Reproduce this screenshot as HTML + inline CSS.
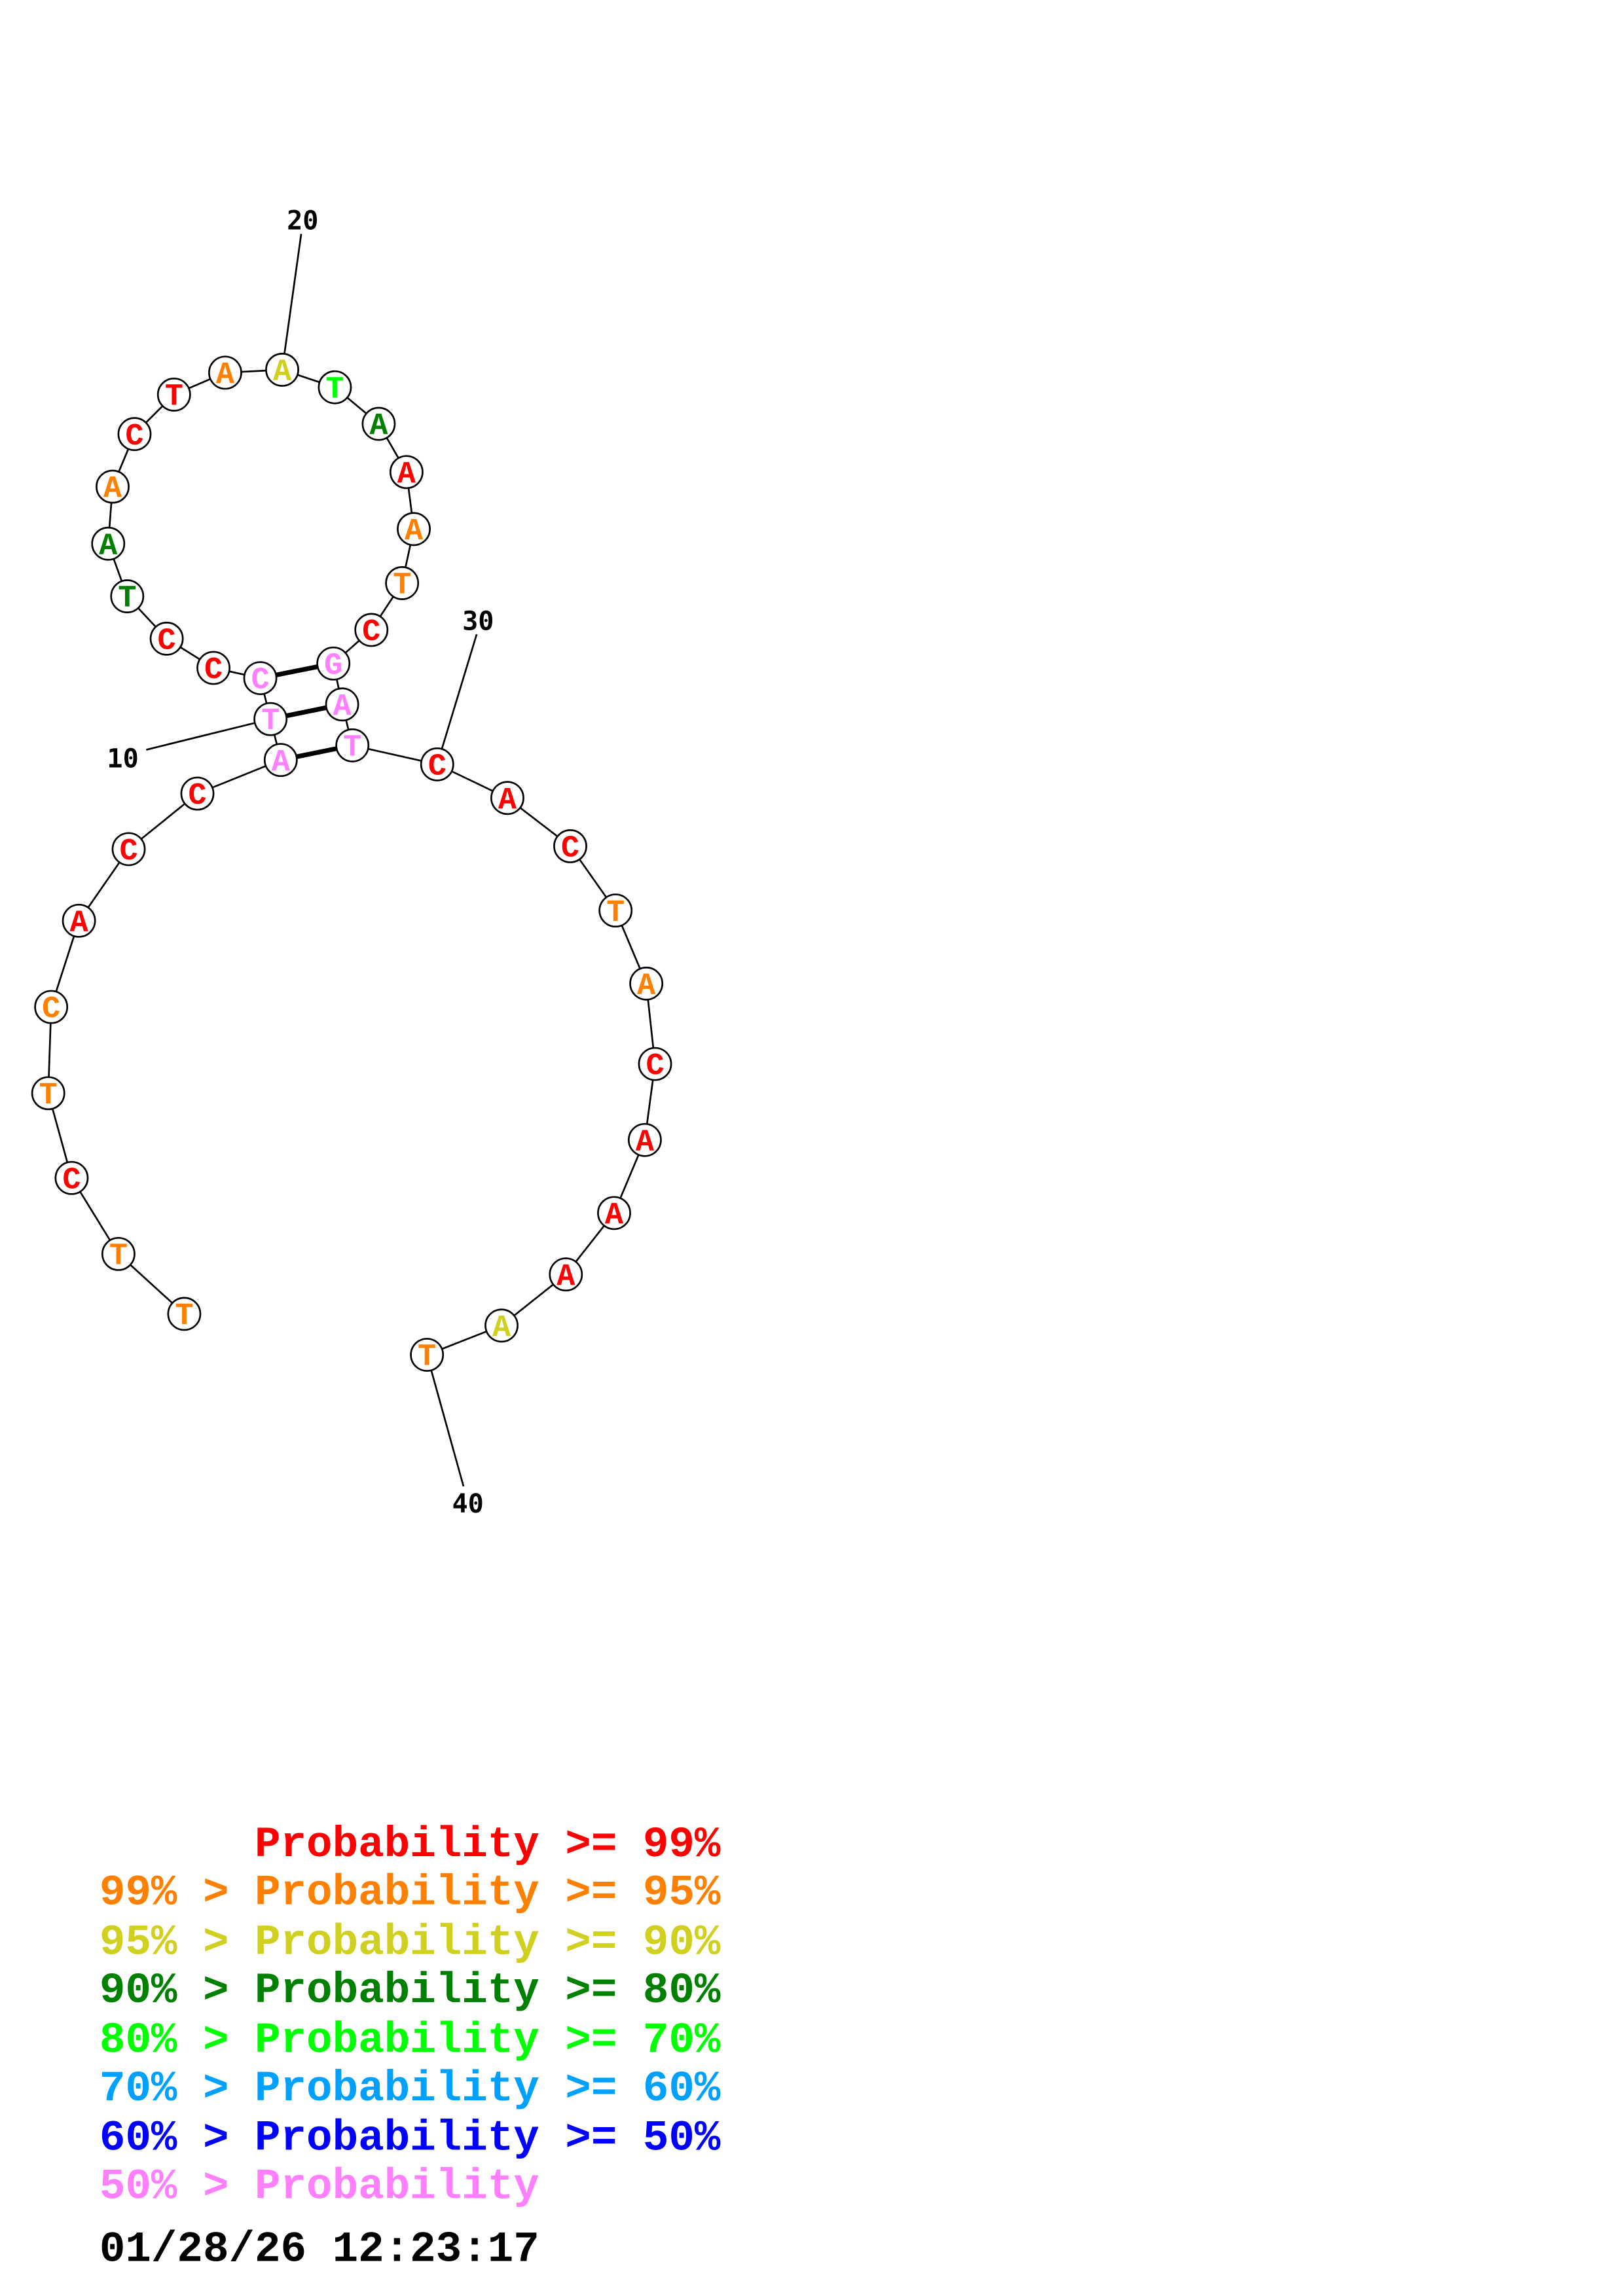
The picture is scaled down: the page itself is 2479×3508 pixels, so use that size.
<!DOCTYPE html>
<html><head><meta charset="utf-8"><style>
html,body{margin:0;padding:0;background:#fff;}
svg{display:block;}
.n{font-family:"Liberation Mono",monospace;font-weight:bold;font-size:21px;text-anchor:middle;}
.l{font-family:"DejaVu Sans Mono","Liberation Mono",monospace;font-weight:bold;font-size:18px;text-anchor:middle;fill:#000;}
.g{font-family:"Liberation Mono",monospace;font-weight:bold;font-size:29.5px;}
</style></head><body>
<svg width="2479" height="3508" viewBox="0 0 1110 1571" preserveAspectRatio="none" xmlns="http://www.w3.org/2000/svg">
<rect width="1110" height="1571" fill="#fff"/>
<g stroke="#000" stroke-width="1.2" fill="none">
<polyline points="126,899 81,858 49,806 33,748 35,689 54,630 88,581 135,543 192,520 185,492 178,464 146,457 114,437 87,408 74,372 77,333 92,297 119,270 154,255 193,253 229,265 259,290 278,323 283,362 275,399 254,431 228,454 234,482 241,510 299,523 347,546 390,579 421,623 442,673 448,728 441,780 420,830 387,872 343,907 292,927"/>
<line x1="206" y1="160" x2="193" y2="253"/>
<line x1="100" y1="513" x2="185" y2="492"/>
<line x1="326" y1="434" x2="299" y2="523"/>
<line x1="317" y1="1017" x2="292" y2="927"/>
</g>
<g stroke="#000" stroke-width="3.2">
<line x1="178" y1="464" x2="228" y2="454"/>
<line x1="185" y1="492" x2="234" y2="482"/>
<line x1="192" y1="520" x2="241" y2="510"/>
</g>
<text class="l" x="207" y="157">20</text>
<text class="l" x="84" y="525">10</text>
<text class="l" x="327" y="431">30</text>
<text class="l" x="320" y="1035">40</text>
<g class="g">
<text x="68" y="1270" fill="#ff0000" xml:space="preserve">      Probability &gt;= 99%</text>
<text x="68" y="1303" fill="#ff8000">99% &gt; Probability &gt;= 95%</text>
<text x="68" y="1337" fill="#d0d020">95% &gt; Probability &gt;= 90%</text>
<text x="68" y="1370" fill="#008000">90% &gt; Probability &gt;= 80%</text>
<text x="68" y="1404" fill="#00ff00">80% &gt; Probability &gt;= 70%</text>
<text x="68" y="1437" fill="#00a0ff">70% &gt; Probability &gt;= 60%</text>
<text x="68" y="1471" fill="#0000ff">60% &gt; Probability &gt;= 50%</text>
<text x="68" y="1504" fill="#ff80ff">50% &gt; Probability</text>
<text x="68" y="1547" fill="#000">01/28/26 12:23:17</text>
</g>
<g stroke="#000" stroke-width="1.2" fill="#fff">
<circle cx="126" cy="899" r="11"/><circle cx="81" cy="858" r="11"/><circle cx="49" cy="806" r="11"/><circle cx="33" cy="748" r="11"/><circle cx="35" cy="689" r="11"/><circle cx="54" cy="630" r="11"/><circle cx="88" cy="581" r="11"/><circle cx="135" cy="543" r="11"/><circle cx="192" cy="520" r="11"/><circle cx="185" cy="492" r="11"/><circle cx="178" cy="464" r="11"/><circle cx="146" cy="457" r="11"/><circle cx="114" cy="437" r="11"/><circle cx="87" cy="408" r="11"/><circle cx="74" cy="372" r="11"/><circle cx="77" cy="333" r="11"/><circle cx="92" cy="297" r="11"/><circle cx="119" cy="270" r="11"/><circle cx="154" cy="255" r="11"/><circle cx="193" cy="253" r="11"/><circle cx="229" cy="265" r="11"/><circle cx="259" cy="290" r="11"/><circle cx="278" cy="323" r="11"/><circle cx="283" cy="362" r="11"/><circle cx="275" cy="399" r="11"/><circle cx="254" cy="431" r="11"/><circle cx="228" cy="454" r="11"/><circle cx="234" cy="482" r="11"/><circle cx="241" cy="510" r="11"/><circle cx="299" cy="523" r="11"/><circle cx="347" cy="546" r="11"/><circle cx="390" cy="579" r="11"/><circle cx="421" cy="623" r="11"/><circle cx="442" cy="673" r="11"/><circle cx="448" cy="728" r="11"/><circle cx="441" cy="780" r="11"/><circle cx="420" cy="830" r="11"/><circle cx="387" cy="872" r="11"/><circle cx="343" cy="907" r="11"/><circle cx="292" cy="927" r="11"/>
</g>
<g class="n">
<text x="126" y="906" fill="#ff8000">T</text>
<text x="81" y="865" fill="#ff8000">T</text>
<text x="49" y="813" fill="#ff0000">C</text>
<text x="33" y="755" fill="#ff8000">T</text>
<text x="35" y="696" fill="#ff8000">C</text>
<text x="54" y="637" fill="#ff0000">A</text>
<text x="88" y="588" fill="#ff0000">C</text>
<text x="135" y="550" fill="#ff0000">C</text>
<text x="192" y="527" fill="#ff80ff">A</text>
<text x="185" y="499" fill="#ff80ff">T</text>
<text x="178" y="471" fill="#ff80ff">C</text>
<text x="146" y="464" fill="#ff0000">C</text>
<text x="114" y="444" fill="#ff0000">C</text>
<text x="87" y="415" fill="#008000">T</text>
<text x="74" y="379" fill="#008000">A</text>
<text x="77" y="340" fill="#ff8000">A</text>
<text x="92" y="304" fill="#ff0000">C</text>
<text x="119" y="277" fill="#ff0000">T</text>
<text x="154" y="262" fill="#ff8000">A</text>
<text x="193" y="260" fill="#d0d020">A</text>
<text x="229" y="272" fill="#00ff00">T</text>
<text x="259" y="297" fill="#008000">A</text>
<text x="278" y="330" fill="#ff0000">A</text>
<text x="283" y="369" fill="#ff8000">A</text>
<text x="275" y="406" fill="#ff8000">T</text>
<text x="254" y="438" fill="#ff0000">C</text>
<text x="228" y="461" fill="#ff80ff">G</text>
<text x="234" y="489" fill="#ff80ff">A</text>
<text x="241" y="517" fill="#ff80ff">T</text>
<text x="299" y="530" fill="#ff0000">C</text>
<text x="347" y="553" fill="#ff0000">A</text>
<text x="390" y="586" fill="#ff0000">C</text>
<text x="421" y="630" fill="#ff8000">T</text>
<text x="442" y="680" fill="#ff8000">A</text>
<text x="448" y="735" fill="#ff0000">C</text>
<text x="441" y="787" fill="#ff0000">A</text>
<text x="420" y="837" fill="#ff0000">A</text>
<text x="387" y="879" fill="#ff0000">A</text>
<text x="343" y="914" fill="#d0d020">A</text>
<text x="292" y="934" fill="#ff8000">T</text>
</g>
</svg>
</body></html>
